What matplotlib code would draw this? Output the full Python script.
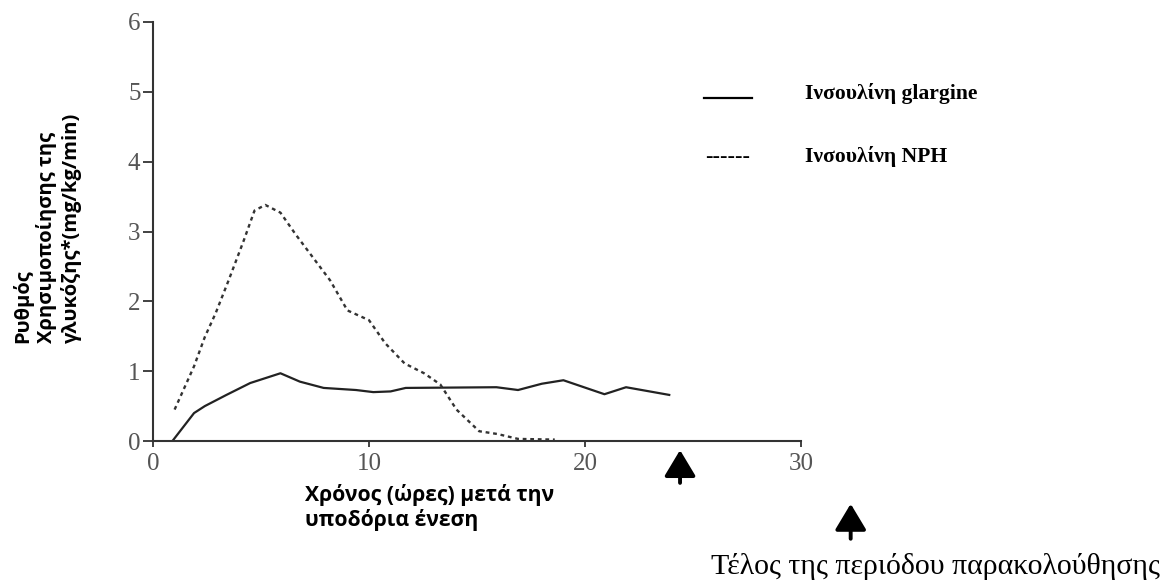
import matplotlib.pyplot as plt
from matplotlib.lines import Line2D

# Ρυθμός χρησιμοποίησης γλυκόζης (mg/kg/min) ανά ώρα μετά την ένεση
glargine_x = [0.9, 1.9, 2.4, 3.4, 4.5, 5.2, 5.9, 6.8, 7.9, 9.4, 10.2, 11.0, 11.7,
              15.9, 16.9, 18.0, 19.0, 20.9, 21.9, 23.9]
glargine_y = [0.0, 0.40, 0.50, 0.66, 0.83, 0.90, 0.97, 0.85, 0.76, 0.73, 0.70, 0.71, 0.76,
              0.77, 0.73, 0.82, 0.87, 0.67, 0.77, 0.66]

nph_x = [1.0, 1.9, 2.4, 2.9, 3.5, 4.2, 4.7, 5.2, 5.9, 6.6, 7.4, 8.2, 9.0, 10.0,
         10.75, 11.65, 12.55, 13.3, 14.05, 15.1, 15.95, 16.9, 18.6]
nph_y = [0.45, 1.07, 1.49, 1.83, 2.30, 2.87, 3.30, 3.38, 3.27, 2.96, 2.63, 2.30, 1.87, 1.73,
         1.40, 1.11, 0.97, 0.81, 0.45, 0.14, 0.10, 0.03, 0.02]

end_of_monitoring = 24.4

x_ticks = [0, 10, 20, 30]
y_ticks = [0, 1, 2, 3, 4, 5, 6]

fig = plt.figure(figsize=(11.62, 5.83), dpi=100)
ax = fig.add_axes([153 / 1162, 142 / 583, 648 / 1162, 419 / 583])

ax.plot(glargine_x, glargine_y, color="#222222", lw=1.6, solid_joinstyle="round")
ax.plot(nph_x, nph_y, color="#333333", lw=1.7, linestyle=(0, (1.6, 1.6)))

ax.set_xlim(0, 30)
ax.set_ylim(0, 6)
ax.set_xticks(x_ticks)
ax.set_yticks(y_ticks)
for s in ["top", "right"]:
    ax.spines[s].set_visible(False)
for s in ["left", "bottom"]:
    ax.spines[s].set_color("#333333")
    ax.spines[s].set_linewidth(1.5)
ax.tick_params(axis="y", length=7, width=1.3, color="#333333", pad=2,
               labelsize=18, labelcolor="#555555")
ax.tick_params(axis="x", length=4, width=1.3, color="#333333", pad=5,
               labelsize=18, labelcolor="#555555")
for lab in ax.get_xticklabels() + ax.get_yticklabels():
    lab.set_family("Liberation Serif")

# βέλη τέλους περιόδου
arrow = dict(arrowstyle="-|>,head_length=0.8,head_width=0.48", mutation_scale=20,
             lw=2.8, color="black", shrinkA=0, shrinkB=0)
ax.annotate("", xy=(end_of_monitoring, -0.13), xytext=(end_of_monitoring, -0.6),
            arrowprops=arrow, annotation_clip=False)
ax.annotate("", xy=(32.3, -0.9), xytext=(32.3, -1.4),
            arrowprops=arrow, annotation_clip=False)

fig.text(1160 / 1162, 1 - 567 / 583, "Τέλος της περιόδου παρακολούθησης",
         family="Liberation Serif", fontsize=21.5, ha="right", va="center")

# υπόμνημα
fig.add_artist(Line2D([704 / 1162, 752 / 1162], [1 - 98 / 583, 1 - 98 / 583],
                      color="black", lw=1.6))
fig.text(805 / 1162, 1 - 93 / 583, "Ινσουλίνη glargine", family="Liberation Serif",
         fontweight="bold", fontsize=15.6, ha="left", va="center")
fig.text(705 / 1162, 1 - 157 / 583, "------", family="Liberation Serif",
         fontweight="bold", fontsize=16, ha="left", va="center")
fig.text(805 / 1162, 1 - 157 / 583, "Ινσουλίνη NPH", family="Liberation Serif",
         fontweight="bold", fontsize=15.6, ha="left", va="center")

# ετικέτες αξόνων
fig.text(47 / 1162, 1 - 343 / 583, "Ρυθμός\nΧρησιμοποίησης της\nγλυκόζης*(mg/kg/min)",
         family="Open Sans", fontweight="bold", fontsize=14.5, rotation=90,
         ha="center", va="bottom", multialignment="left", linespacing=1.2)
fig.text(305 / 1162, 1 - 484 / 583, "Χρόνος (ώρες) μετά την\nυποδόρια ένεση",
         family="Open Sans", fontweight="bold", fontsize=15.2,
         ha="left", va="top", linespacing=1.15)

fig.savefig("out.png", dpi=100, facecolor="white")
